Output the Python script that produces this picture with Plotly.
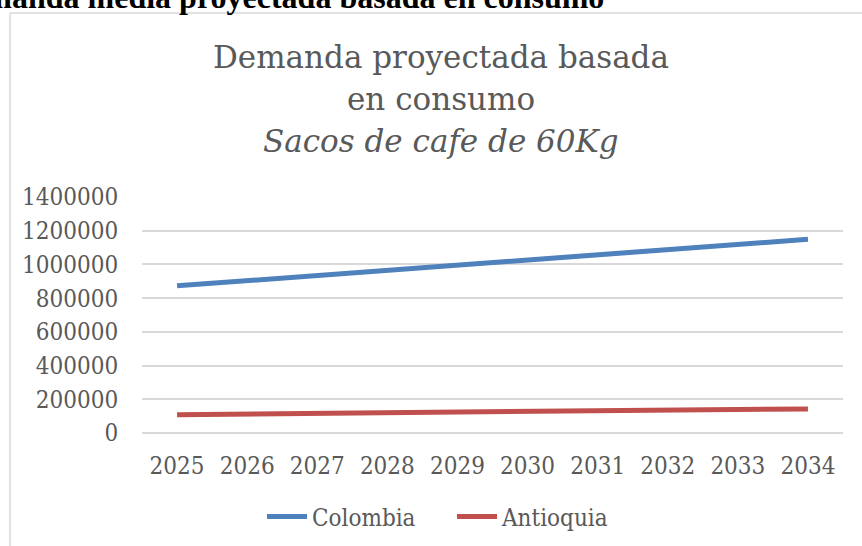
import plotly.graph_objects as go

# data
years = ["2025", "2026", "2027", "2028", "2029", "2030", "2031", "2032", "2033", "2034"]
colombia = [873000, 903000, 933000, 963000, 994000, 1025000, 1056000, 1087000, 1118000, 1149000]
antioquia = [109000, 112800, 116600, 120400, 124200, 128000, 131800, 135600, 139400, 143000]

W, H = 862, 546
L, R, T, B = 142, 19, 197, 113
grey = "#595959"
tick_font = dict(family="DejaVu Serif Condensed, DejaVu Serif, serif", size=24, color=grey)


def px(x):
    # pixel x -> paper x
    return (x - L) / (W - L - R)


def py(y):
    # pixel y -> paper y
    return (H - B - y) / (H - T - B)


fig = go.Figure()
fig.add_trace(go.Scatter(x=years, y=colombia, name="Colombia", mode="lines",
                         line=dict(color="#4F81BD", width=5)))
fig.add_trace(go.Scatter(x=years, y=antioquia, name="Antioquia", mode="lines",
                         line=dict(color="#C0504D", width=5)))

title_font = dict(family="DejaVu Serif, serif", size=31, color=grey)
for txt, yc in [("Demanda proyectada basada", 57), ("en consumo", 99),
                ("<i>Sacos de cafe de 60Kg</i>", 141)]:
    fig.add_annotation(text=txt, x=px(441), y=py(yc), xref="paper", yref="paper",
                       xanchor="center", yanchor="middle", showarrow=False,
                       font=title_font)

# heading of the document, cut off by the top of the crop
fig.add_annotation(text="<b>Demanda media proyectada basada en consumo</b>",
                   x=px(606), y=py(17), xref="paper", yref="paper",
                   xanchor="right", yanchor="bottom", showarrow=False,
                   font=dict(family="Liberation Serif, serif", size=32, color="black"))

# chart frame (left and top edges visible)
frame = dict(color="#d9d9d9", width=1.5)
fig.add_shape(type="line", xref="paper", yref="paper", x0=px(10), x1=px(900),
              y0=py(13), y1=py(13), line=frame)
fig.add_shape(type="line", xref="paper", yref="paper", x0=px(10), x1=px(10),
              y0=py(13), y1=py(600), line=frame)

fig.update_layout(
    width=W, height=H,
    margin=dict(l=L, r=R, t=T, b=B, autoexpand=False),
    paper_bgcolor="white", plot_bgcolor="white",
    showlegend=True,
    legend=dict(orientation="h", xref="container", yref="container",
                x=452 / W, y=1 - 517 / H, xanchor="center", yanchor="middle",
                font=tick_font, itemwidth=40, entrywidth=135),
)
fig.update_xaxes(type="category", range=[-0.5, 9.5], showgrid=False, showline=False,
                 ticks="outside", ticklen=11, tickcolor="rgba(0,0,0,0)",
                 tickfont=tick_font, fixedrange=True)
fig.update_yaxes(range=[0, 1400000], dtick=200000, tickformat="d",
                 showgrid=True, gridcolor="#d9d9d9", gridwidth=1.5,
                 zeroline=True, zerolinecolor="#d9d9d9", zerolinewidth=1.5,
                 ticks="outside", ticklen=18, tickcolor="rgba(0,0,0,0)",
                 tickfont=tick_font, fixedrange=True)

fig.write_html("out.html", config={"displayModeBar": False},
               post_script="document.body.style.margin='0';")
